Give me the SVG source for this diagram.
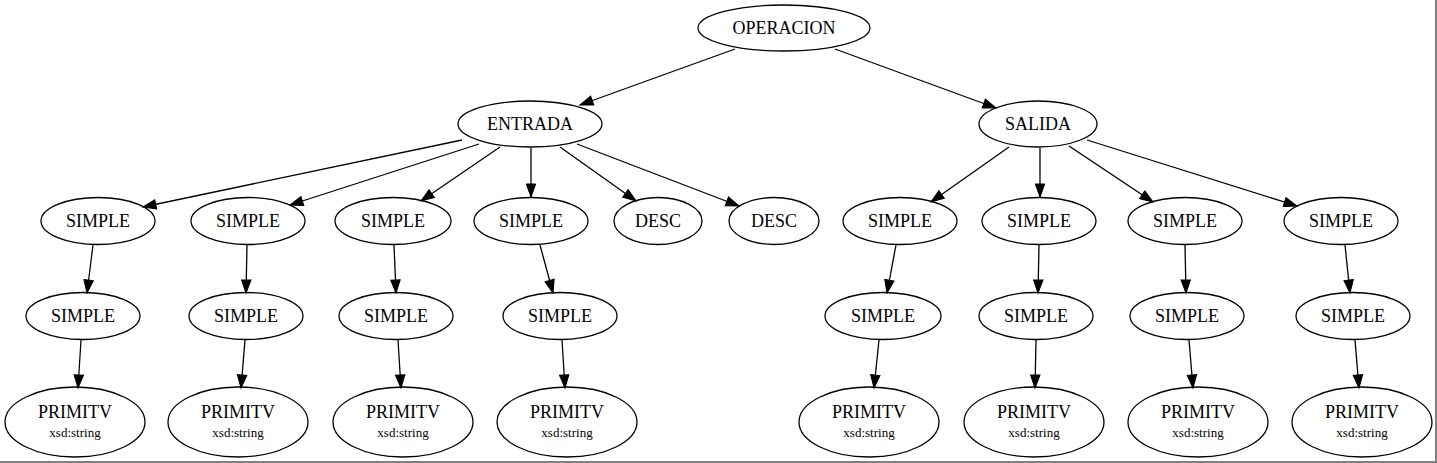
<svg xmlns="http://www.w3.org/2000/svg" width="1437" height="463" viewBox="0 0 1437 463">
<style>
.n ellipse{fill:none;stroke:#000;stroke-width:1.3}
.n text{font-family:'Liberation Serif','Tinos','DejaVu Serif',serif;font-size:18px;text-anchor:middle;fill:#000}
.n text.s{font-size:13px}
#edges line{stroke:#000;stroke-width:1.3;marker-end:url(#arr)}
</style>
<defs>
<marker id="arr" markerUnits="userSpaceOnUse" markerWidth="16" markerHeight="12" viewBox="0 -6 14 12" refX="13" refY="0" orient="auto">
<path d="M0,-4.7 L13,0 L0,4.7 z" fill="#000" stroke="#000" stroke-width="1"/>
</marker>
</defs>
<rect width="1437" height="463" fill="#fff"/>
<rect x="0" y="461" width="1437" height="2" fill="#808080"/>
<rect x="1435" y="0" width="2" height="463" fill="#808080"/>
<g id="edges">
<line x1="735" y1="49" x2="580" y2="105"/>
<line x1="835" y1="49" x2="996" y2="108"/>
<line x1="462" y1="140" x2="143" y2="207"/>
<line x1="479" y1="144" x2="290" y2="205"/>
<line x1="500" y1="147" x2="421" y2="201"/>
<line x1="531" y1="148" x2="531" y2="197"/>
<line x1="560" y1="147" x2="636" y2="201"/>
<line x1="577" y1="144" x2="739" y2="206"/>
<line x1="1009" y1="147" x2="931" y2="202"/>
<line x1="1040" y1="148" x2="1040" y2="197"/>
<line x1="1069" y1="146" x2="1153" y2="202"/>
<line x1="1087" y1="140" x2="1297" y2="206"/>
<line x1="93" y1="245" x2="87" y2="293"/>
<line x1="247" y1="245" x2="246" y2="293"/>
<line x1="394" y1="245" x2="396" y2="293"/>
<line x1="540" y1="245" x2="553" y2="293"/>
<line x1="896" y1="245" x2="887" y2="293"/>
<line x1="1039" y1="245" x2="1038" y2="293"/>
<line x1="1185" y1="245" x2="1186" y2="293"/>
<line x1="1345" y1="245" x2="1350" y2="293"/>
<line x1="81" y1="340" x2="78" y2="388"/>
<line x1="245" y1="340" x2="241" y2="388"/>
<line x1="398" y1="340" x2="401" y2="388"/>
<line x1="562" y1="340" x2="565" y2="388"/>
<line x1="879" y1="340" x2="874" y2="388"/>
<line x1="1036" y1="340" x2="1035" y2="388"/>
<line x1="1189" y1="340" x2="1193" y2="388"/>
<line x1="1355" y1="340" x2="1359" y2="388"/>
</g>
<g id="operacion" class="n"><ellipse cx="784" cy="28" rx="86" ry="23"/><text x="784" y="34">OPERACION</text></g>
<g id="entrada" class="n"><ellipse cx="530" cy="124" rx="72" ry="23"/><text x="530" y="130">ENTRADA</text></g>
<g id="salida" class="n"><ellipse cx="1038" cy="124" rx="59" ry="23"/><text x="1038" y="130">SALIDA</text></g>
<g id="e_simple1" class="n"><ellipse cx="98" cy="221" rx="57" ry="23.5"/><text x="98" y="227">SIMPLE</text></g>
<g id="e_simple2" class="n"><ellipse cx="248" cy="221" rx="57" ry="23.5"/><text x="248" y="227">SIMPLE</text></g>
<g id="e_simple3" class="n"><ellipse cx="393" cy="221" rx="58" ry="23.5"/><text x="393" y="227">SIMPLE</text></g>
<g id="e_simple4" class="n"><ellipse cx="531" cy="221" rx="57" ry="23.5"/><text x="531" y="227">SIMPLE</text></g>
<g id="desc1" class="n"><ellipse cx="658" cy="221" rx="44" ry="23.5"/><text x="658" y="227">DESC</text></g>
<g id="desc2" class="n"><ellipse cx="774" cy="221" rx="45" ry="23.5"/><text x="774" y="227">DESC</text></g>
<g id="s_simple1" class="n"><ellipse cx="900" cy="221" rx="57" ry="23.5"/><text x="900" y="227">SIMPLE</text></g>
<g id="s_simple2" class="n"><ellipse cx="1039" cy="221" rx="57" ry="23.5"/><text x="1039" y="227">SIMPLE</text></g>
<g id="s_simple3" class="n"><ellipse cx="1185" cy="221" rx="57" ry="23.5"/><text x="1185" y="227">SIMPLE</text></g>
<g id="s_simple4" class="n"><ellipse cx="1341" cy="221" rx="57" ry="23.5"/><text x="1341" y="227">SIMPLE</text></g>
<g id="e_simple1b" class="n"><ellipse cx="83" cy="316" rx="57" ry="23.5"/><text x="83" y="322">SIMPLE</text></g>
<g id="e_simple2b" class="n"><ellipse cx="246" cy="316" rx="57" ry="23.5"/><text x="246" y="322">SIMPLE</text></g>
<g id="e_simple3b" class="n"><ellipse cx="396" cy="316" rx="57" ry="23.5"/><text x="396" y="322">SIMPLE</text></g>
<g id="e_simple4b" class="n"><ellipse cx="560" cy="316" rx="57" ry="23.5"/><text x="560" y="322">SIMPLE</text></g>
<g id="s_simple1b" class="n"><ellipse cx="883" cy="316" rx="58" ry="23.5"/><text x="883" y="322">SIMPLE</text></g>
<g id="s_simple2b" class="n"><ellipse cx="1036" cy="316" rx="57" ry="23.5"/><text x="1036" y="322">SIMPLE</text></g>
<g id="s_simple3b" class="n"><ellipse cx="1187" cy="316" rx="57" ry="23.5"/><text x="1187" y="322">SIMPLE</text></g>
<g id="s_simple4b" class="n"><ellipse cx="1353" cy="316" rx="57" ry="23.5"/><text x="1353" y="322">SIMPLE</text></g>
<g id="e_prim1" class="n"><ellipse cx="75" cy="422" rx="70" ry="35"/><text x="75" y="418">PRIMITV</text><text class="s" x="75" y="437">xsd:string</text></g>
<g id="e_prim2" class="n"><ellipse cx="238" cy="422" rx="70" ry="35"/><text x="238" y="418">PRIMITV</text><text class="s" x="238" y="437">xsd:string</text></g>
<g id="e_prim3" class="n"><ellipse cx="403" cy="422" rx="70" ry="35"/><text x="403" y="418">PRIMITV</text><text class="s" x="403" y="437">xsd:string</text></g>
<g id="e_prim4" class="n"><ellipse cx="567" cy="422" rx="70" ry="35"/><text x="567" y="418">PRIMITV</text><text class="s" x="567" y="437">xsd:string</text></g>
<g id="s_prim1" class="n"><ellipse cx="869" cy="422" rx="70" ry="35"/><text x="869" y="418">PRIMITV</text><text class="s" x="869" y="437">xsd:string</text></g>
<g id="s_prim2" class="n"><ellipse cx="1034" cy="422" rx="70" ry="35"/><text x="1034" y="418">PRIMITV</text><text class="s" x="1034" y="437">xsd:string</text></g>
<g id="s_prim3" class="n"><ellipse cx="1198" cy="422" rx="70" ry="35"/><text x="1198" y="418">PRIMITV</text><text class="s" x="1198" y="437">xsd:string</text></g>
<g id="s_prim4" class="n"><ellipse cx="1362" cy="422" rx="70" ry="35"/><text x="1362" y="418">PRIMITV</text><text class="s" x="1362" y="437">xsd:string</text></g>
</svg>
